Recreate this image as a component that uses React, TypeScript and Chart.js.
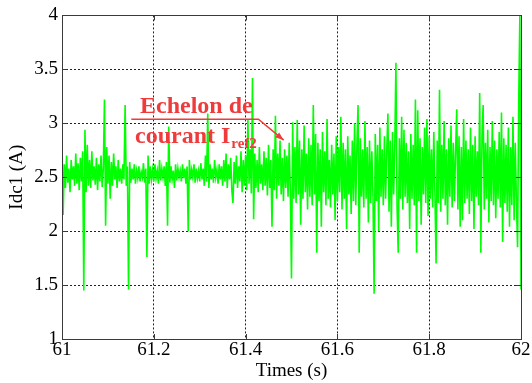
import React, { useEffect, useRef } from "react";
import { Chart, registerables } from "chart.js";

Chart.register(...registerables);

// Time axis: start and sampling step of the recorded signal (s)
const T0 = 61;
const DT = 0.0025;

// Idc1 samples (A)
const idc1Part1: number[] = [
  2.85, 2.15, 2.62, 2.40, 2.70, 2.45, 2.58, 2.36, 2.66, 2.48, 2.60, 2.42, 2.72, 2.44, 2.63, 2.38, 2.68, 2.46, 2.74, 1.45,
  2.94, 2.36, 2.80, 2.42, 2.66, 2.40, 2.74, 2.47, 2.60, 2.43, 2.68, 2.38, 2.62, 2.46, 2.70, 2.41, 2.58, 3.22, 2.05, 2.78,
  2.44, 2.70, 2.30, 2.64, 2.42, 2.72, 2.48, 2.60, 2.40, 2.66, 2.46, 2.58, 2.44, 2.62, 2.48, 3.17, 2.42, 2.60, 1.46, 2.64,
  2.45, 2.58, 2.48, 2.62, 2.44, 2.56, 2.49, 2.60, 2.46, 2.55, 2.50, 2.63, 2.45, 2.58, 1.76, 2.70, 2.44, 2.60, 2.48, 2.57,
  2.46, 2.62, 2.49, 2.56, 2.44, 2.66, 2.47, 2.58, 2.50, 2.60, 2.42, 2.64, 2.05, 2.97, 2.45, 2.60, 2.48, 2.56, 2.40, 2.62,
  2.47, 2.58, 2.50, 2.56, 2.46, 2.62, 2.49, 2.58, 2.44, 2.60, 2.00, 2.66, 2.48, 2.57, 2.50, 2.62, 2.45, 2.58, 2.49, 2.56,
  2.46, 2.63, 2.48, 2.58, 2.42, 2.70, 2.46, 3.09, 2.40, 2.62, 2.48, 2.58, 2.45, 2.66, 2.50, 2.57, 2.44, 2.62, 2.48, 2.60,
  2.42, 2.66, 2.46, 2.72, 2.40, 2.62, 2.48, 2.68, 2.38, 2.26, 2.64, 2.44, 2.70, 2.40, 2.60, 2.46, 2.74, 2.36, 2.66, 2.42,
  2.70, 2.38, 3.03, 2.44, 2.76, 2.35, 3.42, 2.11, 2.72, 2.40, 2.66, 2.36, 2.78, 2.44, 2.62, 2.38, 2.74, 2.42, 2.68, 2.33,
  2.80, 2.40, 2.66, 2.04, 2.76, 2.38, 3.07, 2.30, 2.72, 2.42, 2.84, 2.34, 2.68, 2.28, 2.76, 2.40, 2.70, 2.32, 2.82, 2.36,
];

const idc1Part2: number[] = [
  1.56, 3.01, 2.30, 2.78, 2.26, 3.03, 2.34, 2.84, 2.06, 2.76, 2.30, 2.98, 2.36, 2.72, 2.20, 2.86, 2.32, 2.80, 2.24, 3.17,
  2.34, 2.90, 1.80, 2.82, 2.28, 2.76, 2.04, 2.92, 2.36, 2.74, 2.24, 3.04, 2.30, 2.66, 2.22, 2.80, 2.34, 2.72, 2.10, 2.88,
  2.28, 2.78, 2.36, 3.06, 2.20, 2.82, 2.30, 2.76, 2.02, 2.88, 2.34, 2.70, 2.16, 2.84, 2.28, 3.00, 2.24, 2.80, 3.17, 1.80,
  2.86, 2.32, 2.76, 2.22, 3.02, 2.30, 2.78, 2.08, 2.84, 2.26, 2.74, 2.34, 1.42, 2.90, 2.28, 2.80, 2.00, 2.96, 2.32, 2.76,
  2.24, 2.88, 2.30, 2.74, 3.09, 2.18, 2.84, 2.04, 2.92, 2.34, 2.78, 3.56, 2.22, 1.80, 2.86, 2.30, 3.06, 2.20, 2.94, 2.32,
  2.82, 2.26, 2.74, 2.02, 2.90, 2.30, 2.80, 2.24, 3.22, 1.80, 3.12, 2.28, 2.86, 2.06, 2.78, 2.34, 2.96, 2.26, 3.04, 2.14,
  2.88, 2.30, 2.76, 2.22, 2.92, 2.34, 1.70, 2.84, 2.26, 3.31, 2.18, 2.80, 2.30, 3.02, 2.24, 2.76, 2.06, 2.86, 2.32, 2.98,
  2.22, 2.82, 2.28, 2.74, 3.13, 2.20, 2.88, 2.04, 2.78, 2.10, 3.04, 2.26, 2.84, 2.30, 2.76, 2.16, 2.96, 2.28, 2.80, 2.02,
  2.88, 2.32, 2.74, 2.24, 3.28, 1.80, 2.86, 3.17, 2.20, 2.82, 2.30, 2.94, 2.08, 2.78, 2.28, 3.02, 2.24, 2.84, 2.12, 2.76,
  2.30, 2.92, 2.22, 3.10, 1.90, 2.86, 2.26, 2.80, 2.18, 2.96, 2.04, 2.78, 2.24, 3.06, 2.10, 2.82, 2.28, 1.85, 3.20, 4.00, 1.46,
];

const idc1Values: number[] = [...idc1Part1, ...idc1Part2];

const xTicks: number[] = [61, 61.2, 61.4, 61.6, 61.8, 62];
const yTicks: number[] = [1, 1.5, 2, 2.5, 3, 3.5, 4];

const xTitle = "Times (s)";
const yTitle = "Idc1 (A)";
const annotLine1 = "Echelon de";
const annotLine2 = "courant I";
const annotSub = "ref2";

const SERIF = '"Liberation Serif", "Times New Roman", serif';
const RED = "#ef3b3b";

const framePlugin = {
  id: "framePlugin",
  afterDraw(chart: any) {
    const { ctx, chartArea: a, scales } = chart;
    const xs = scales.x;
    const ys = scales.y;
    ctx.save();
    ctx.strokeStyle = "#3a3a3a";
    ctx.lineWidth = 1;
    ctx.setLineDash([]);
    ctx.strokeRect(Math.round(a.left) + 0.5, Math.round(a.top) + 0.5, Math.round(a.right - a.left), Math.round(a.bottom - a.top));
    const tl = 5;
    ctx.beginPath();
    xTicks.forEach((v) => {
      const px = Math.round(xs.getPixelForValue(v)) + 0.5;
      ctx.moveTo(px, a.bottom);
      ctx.lineTo(px, a.bottom - tl);
      ctx.moveTo(px, a.top);
      ctx.lineTo(px, a.top + tl);
    });
    yTicks.forEach((v) => {
      const py = Math.round(ys.getPixelForValue(v)) + 0.5;
      ctx.moveTo(a.left, py);
      ctx.lineTo(a.left + tl, py);
      ctx.moveTo(a.right, py);
      ctx.lineTo(a.right - tl, py);
    });
    ctx.stroke();

    const X = (v: number) => xs.getPixelForValue(v);
    const Y = (v: number) => ys.getPixelForValue(v);
    ctx.fillStyle = RED;
    ctx.strokeStyle = RED;
    ctx.textBaseline = "alphabetic";
    ctx.textAlign = "left";
    ctx.font = `bold 24px ${SERIF}`;
    ctx.fillText(annotLine1, X(61.170), Y(3.093));
    const l2x = X(61.159);
    const l2y = Y(2.815);
    ctx.fillText(annotLine2, l2x, l2y);
    const w2 = ctx.measureText(annotLine2).width;
    ctx.font = `bold 15px ${SERIF}`;
    ctx.fillText(annotSub, l2x + w2 + 1, l2y + 5);

    const x1 = X(61.151), x2 = X(61.428), yl = Y(3.037);
    const tx = X(61.483), ty = Y(2.843);
    ctx.lineWidth = 1.5;
    ctx.beginPath();
    ctx.moveTo(x1, yl);
    ctx.lineTo(x2, yl);
    ctx.lineTo(tx, ty);
    ctx.stroke();
    const ang = Math.atan2(ty - yl, tx - x2);
    const ah = 9;
    ctx.beginPath();
    ctx.moveTo(tx, ty);
    ctx.lineTo(tx - ah * Math.cos(ang - 0.35), ty - ah * Math.sin(ang - 0.35));
    ctx.lineTo(tx - ah * Math.cos(ang + 0.35), ty - ah * Math.sin(ang + 0.35));
    ctx.closePath();
    ctx.fill();
    ctx.restore();
  },
};

const bgPlugin = {
  id: "bgPlugin",
  beforeDraw(chart: any) {
    const { ctx, width, height } = chart;
    ctx.save();
    ctx.fillStyle = "#ffffff";
    ctx.fillRect(0, 0, width, height);
    ctx.restore();
  },
};

export default function App() {
  const canvasRef = useRef<HTMLCanvasElement | null>(null);

  useEffect(() => {
    document.body.style.margin = "0";
    const canvas = canvasRef.current;
    if (!canvas) return;
    const points = idc1Values.map((v, i) => ({ x: T0 + i * DT, y: v }));
    const chart = new Chart(canvas, {
      type: "line",
      data: {
        datasets: [
          {
            data: points,
            borderColor: "#00ff00",
            borderWidth: 1.6,
            pointRadius: 0,
            tension: 0,
            fill: false,
          },
        ],
      },
      options: {
        animation: false,
        responsive: false,
        maintainAspectRatio: false,
        parsing: false,
        layout: { padding: { left: 0, right: 11, top: 15, bottom: 0 } },
        plugins: {
          legend: { display: false },
          tooltip: { enabled: false },
        },
        scales: {
          x: {
            type: "linear",
            min: 61,
            max: 62,
            afterBuildTicks: (s: any) => {
              s.ticks = xTicks.map((v) => ({ value: v }));
            },
            afterFit: (s: any) => {
              s.height = 44;
            },
            ticks: {
              color: "#000",
              font: { family: SERIF, size: 19 },
              padding: 0,
              maxRotation: 0,
              callback: (v: any) => String(Math.round(Number(v) * 10) / 10),
            },
            grid: { color: "#222", lineWidth: 1, drawTicks: false },
            border: { display: false, dash: [2, 2] },
            title: {
              display: true,
              text: xTitle,
              color: "#000",
              font: { family: SERIF, size: 19 },
              padding: { top: 0, bottom: 1 },
            },
          },
          y: {
            type: "linear",
            min: 1,
            max: 4,
            afterBuildTicks: (s: any) => {
              s.ticks = yTicks.map((v) => ({ value: v }));
            },
            afterFit: (s: any) => {
              s.width = 62;
            },
            ticks: {
              color: "#000",
              font: { family: SERIF, size: 19 },
              padding: 4,
              callback: (v: any) => String(Math.round(Number(v) * 10) / 10),
            },
            grid: { color: "#222", lineWidth: 1, drawTicks: false },
            border: { display: false, dash: [2, 2] },
            title: {
              display: true,
              text: yTitle,
              color: "#000",
              font: { family: SERIF, size: 19 },
              padding: { top: 6, bottom: 0 },
            },
          },
        },
      },
      plugins: [bgPlugin, framePlugin],
    });
    return () => chart.destroy();
  }, []);

  return (
    <div style={{ position: "absolute", left: 0, top: 0, width: 532, height: 383 }}>
      <canvas ref={canvasRef} width={532} height={383} style={{ width: 532, height: 383, display: "block" }} />
    </div>
  );
}
